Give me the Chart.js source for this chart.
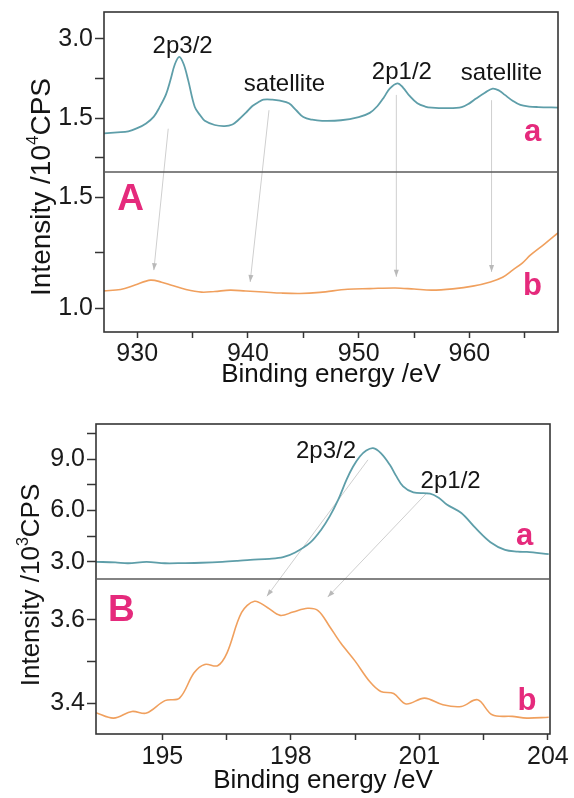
<!DOCTYPE html>
<html>
<head>
<meta charset="utf-8">
<script src="https://cdn.jsdelivr.net/npm/chart.js@4.4.1/dist/chart.umd.min.js"></script>
<style>
  body { margin: 0; background: #fff; }
  #wrap { position: relative; width: 574px; height: 798px; }
  #wrap canvas { position: absolute; left: 0; }
</style>
</head>
<body>
<div id="wrap">
  <canvas id="cuChart" width="574" height="400" style="top:0"></canvas>
  <canvas id="clChart" width="574" height="398" style="top:400px"></canvas>
</div>
<script>
// ---- Cu 2p region (x10^4 CPS) ----
const cuEnergyA = [927.0, 928.2, 929.2, 930.0, 930.8, 931.5, 932.0, 932.6, 933.0, 933.4, 933.8, 934.2, 934.6, 935.2, 935.7,
  936.1, 937.0, 937.9, 938.6, 939.1, 939.8, 940.4, 941.0, 941.4, 942.2, 942.9, 943.7, 944.4, 945.0, 945.8, 946.7, 948.4,
  950.0, 951.0, 951.7, 952.3, 952.8, 953.5, 954.0, 954.6, 955.3, 956.0, 956.6, 958.0, 959.3, 960.0, 960.6, 961.4, 962.1,
  962.7, 963.2, 963.9, 964.6, 965.4, 966.2, 968.0];
const cuCountsA = [1.21, 1.23, 1.25, 1.31, 1.40, 1.53, 1.70, 1.95, 2.22, 2.52, 2.66, 2.52, 2.22, 1.71, 1.55,
  1.45, 1.37, 1.35, 1.38, 1.46, 1.60, 1.73, 1.81, 1.85, 1.85, 1.83, 1.78, 1.64, 1.52, 1.47, 1.45, 1.46,
  1.52, 1.60, 1.73, 1.90, 2.06, 2.16, 2.08, 1.92, 1.78, 1.72, 1.70, 1.69, 1.71, 1.78, 1.87, 1.98, 2.06,
  2.02, 1.94, 1.83, 1.75, 1.72, 1.71, 1.70];
const cuEnergyB = [927.0, 928.5, 929.8, 931.2, 932.2, 933.1, 934.4, 935.8, 937.0, 938.4, 939.8, 941.4, 943.0, 944.7,
  946.5, 949.0, 951.0, 953.3, 955.0, 956.6, 958.5, 960.3, 961.9, 963.0, 963.9, 964.8, 965.5, 966.8, 968.0];
const cuCountsB = [1.079, 1.085, 1.105, 1.127, 1.118, 1.104, 1.085, 1.073, 1.076, 1.082, 1.078, 1.074, 1.069, 1.067,
  1.072, 1.086, 1.089, 1.092, 1.087, 1.082, 1.088, 1.100, 1.119, 1.140, 1.172, 1.205, 1.239, 1.290, 1.339];

const cuXTicks = [930, 935, 940, 945, 950, 955, 960, 965];
const cuXLabels = ['930', '', '940', '', '950', '', '960', ''];
const cuTopTicks = [0.75, 1.5, 2.25, 3.0];
const cuTopLabels = ['', '1.5', '', '3.0'];
const cuBotTicks = [1.0, 1.25, 1.5];
const cuBotLabels = ['1.0', '', '1.5'];

const cuPeakNames = ['2p3/2', 'satellite', '2p1/2', 'satellite'];
const cuPeakE = [934.1, 943.3, 953.9, 962.9];
const cuPeakI = [2.85, 2.13, 2.37, 2.34];
// guide arrows: start on the upper trace axis, end on the lower one
const cuArrowFromE = [932.8, 941.9, 953.4, 962.0];
const cuArrowFromI = [1.30, 1.65, 1.94, 1.84];
const cuArrowToE = [931.5, 940.2, 953.4, 962.0];
const cuArrowToI = [1.172, 1.119, 1.142, 1.164];

// ---- Cl 2p region (x10^3 CPS) ----
const clEnergyA = [193.45, 193.9, 194.2, 194.63, 195.06, 195.5, 195.91, 196.4, 196.76, 197.05, 197.5, 197.82, 198.1,
  198.45, 198.7, 198.91, 199.1, 199.3, 199.45, 199.61, 199.76, 199.92, 200.1, 200.31, 200.45, 200.62, 200.86, 201.25,
  201.45, 201.64, 201.98, 202.32, 202.66, 203.0, 203.3, 203.51, 204.02];
const clCountsA = [3.00, 2.97, 2.92, 3.00, 2.92, 2.93, 2.95, 3.00, 3.06, 3.12, 3.18, 3.28, 3.55,
  4.12, 4.85, 5.67, 6.60, 7.80, 8.55, 9.15, 9.50, 9.64, 9.35, 8.67, 8.05, 7.41, 7.06, 6.99,
  6.75, 6.35, 5.85, 4.95, 4.15, 3.70, 3.60, 3.58, 3.45];
const clEnergyB = [193.45, 193.86, 194.29, 194.63, 195.06, 195.4, 195.74, 195.99, 196.29, 196.51, 196.85, 197.15,
  197.45, 197.75, 198.05, 198.39, 198.64, 198.9, 199.16, 199.5, 199.84, 200.1, 200.4, 200.69, 201.12, 201.55, 201.98,
  202.36, 202.7, 203.17, 203.51, 204.02];
const clCountsB = [3.377, 3.364, 3.380, 3.376, 3.406, 3.412, 3.473, 3.493, 3.490, 3.521, 3.618, 3.645,
  3.630, 3.611, 3.619, 3.628, 3.622, 3.585, 3.545, 3.501, 3.452, 3.428, 3.423, 3.398, 3.412, 3.396, 3.392,
  3.408, 3.372, 3.368, 3.364, 3.366];

const clXTicks = [195, 196.5, 198, 199.5, 201, 202.5, 204];
const clXLabels = ['195', '', '198', '', '201', '', '204'];
const clTopTicks = [3.0, 4.5, 6.0, 7.5, 9.0, 10.5];
const clTopLabels = ['3.0', '', '6.0', '', '9.0', ''];
const clBotTicks = [3.4, 3.5, 3.6];
const clBotLabels = ['3.4', '', '3.6'];

const clPeakNames = ['2p3/2', '2p1/2'];
const clPeakE = [198.82, 201.73];
const clPeakI = [9.48, 7.68];
const clArrowFromE = [199.80, 201.18];
const clArrowFromI = [8.96, 7.04];
const clArrowToE = [197.44, 198.86];
const clArrowToI = [3.657, 3.655];

const FONT = 'Arial, "Liberation Sans", sans-serif';
const TEAL = '#5e9ea9';
const ORANGE = '#f0a05e';
const PINK = '#e52a7c';
const FRAME = '#353535';

function pts(xs, ys) {
  return xs.map((e, i) => ({ x: e, y: ys[i] }));
}

function noPadding(scale) {
  scale.paddingLeft = scale.paddingRight = scale.paddingTop = scale.paddingBottom = 0;
}

function yAxis(min, max, tickVals, tickLabels, width, weight) {
  return {
    type: 'linear', position: 'left', stack: 'left', stackWeight: 1, weight: weight,
    min: min, max: max,
    afterBuildTicks: s => { s.ticks = tickVals.map(v => ({ value: v })); },
    afterFit: s => { s.width = width; noPadding(s); },
    ticks: { autoSkip: false, callback: (v, i) => tickLabels[i], font: { family: FONT, size: 25 }, color: '#1a1a1a', padding: 2 },
    grid: { display: true, drawOnChartArea: false, drawTicks: true, tickLength: 9, tickColor: FRAME, tickWidth: 1.5 },
    border: { display: false }
  };
}

function xAxis(min, max, tickVals, tickLabels, height, tickPad, titlePad) {
  return {
    type: 'linear', position: 'bottom', min: min, max: max,
    afterBuildTicks: s => { s.ticks = tickVals.map(v => ({ value: v })); },
    afterFit: s => { s.height = height; noPadding(s); },
    ticks: { autoSkip: false, maxRotation: 0, callback: (v, i) => tickLabels[i], font: { family: FONT, size: 25 }, color: '#1a1a1a', padding: tickPad },
    grid: { display: true, drawOnChartArea: false, drawTicks: true, tickLength: 6, tickColor: FRAME, tickWidth: 1.5 },
    border: { display: false },
    title: { display: true, text: 'Binding energy /eV', font: { family: FONT, size: 26 }, color: '#111', padding: { top: 0, bottom: titlePad } }
  };
}

function arrow(ctx, x0, y0, x1, y1) {
  ctx.beginPath();
  ctx.moveTo(x0, y0);
  ctx.lineTo(x1, y1);
  ctx.stroke();
  const ang = Math.atan2(y1 - y0, x1 - x0);
  ctx.beginPath();
  ctx.moveTo(x1, y1);
  ctx.lineTo(x1 - 7 * Math.cos(ang) + 2.5 * Math.sin(ang), y1 - 7 * Math.sin(ang) - 2.5 * Math.cos(ang));
  ctx.lineTo(x1 - 7 * Math.cos(ang) - 2.5 * Math.sin(ang), y1 - 7 * Math.sin(ang) + 2.5 * Math.cos(ang));
  ctx.closePath();
  ctx.fill();
}

// frame, divider, guide arrows, peak names and panel letters
const decor = {
  id: 'decor',
  beforeDatasetsDraw(chart, args, o) {
    const { ctx, scales } = chart;
    ctx.save();
    ctx.strokeStyle = '#cfcfcf';
    ctx.fillStyle = '#b9b9b9';
    ctx.lineWidth = 1;
    o.arrowFromE.forEach((e, i) => {
      arrow(ctx, scales.x.getPixelForValue(e), scales.yTop.getPixelForValue(o.arrowFromI[i]),
        scales.x.getPixelForValue(o.arrowToE[i]), scales.yBot.getPixelForValue(o.arrowToI[i]));
    });
    ctx.restore();
  },
  afterDatasetsDraw(chart, args, o) {
    const { ctx, chartArea: a, scales } = chart;
    const x = scales.x, yTop = scales.yTop, yBot = scales.yBot;
    ctx.save();
    ctx.strokeStyle = FRAME;
    ctx.lineWidth = 1.6;
    ctx.strokeRect(a.left, a.top, a.right - a.left, a.bottom - a.top);
    ctx.strokeStyle = '#5a5a5a';
    ctx.beginPath();
    ctx.moveTo(a.left, yTop.bottom);
    ctx.lineTo(a.right, yTop.bottom);
    ctx.stroke();

    ctx.textAlign = 'center';
    ctx.textBaseline = 'middle';
    ctx.fillStyle = '#151515';
    ctx.font = '24px ' + FONT;
    o.peakNames.forEach((t, i) => {
      ctx.fillText(t, x.getPixelForValue(o.peakE[i]), yTop.getPixelForValue(o.peakI[i]));
    });

    ctx.fillStyle = PINK;
    ctx.font = 'bold 31px ' + FONT;
    ctx.fillText('a', x.getPixelForValue(o.aPos[0]), yTop.getPixelForValue(o.aPos[1]));
    ctx.fillText('b', x.getPixelForValue(o.bPos[0]), yBot.getPixelForValue(o.bPos[1]));
    ctx.font = 'bold 37px ' + FONT;
    ctx.fillText(o.letter, x.getPixelForValue(o.letterPos[0]), yBot.getPixelForValue(o.letterPos[1]));

    // rotated y title with superscript exponent
    ctx.translate(o.titleX, (a.top + a.bottom) / 2 + o.titleShift);
    ctx.rotate(-Math.PI / 2);
    ctx.fillStyle = '#151515';
    ctx.textAlign = 'left';
    ctx.textBaseline = 'alphabetic';
    const big = o.titleSize + 'px ' + FONT, small = Math.round(o.titleSize * 0.6) + 'px ' + FONT;
    ctx.font = big;
    const w1 = ctx.measureText('Intensity /10').width, w3 = ctx.measureText('CPS').width;
    ctx.font = small;
    const w2 = ctx.measureText(o.exponent).width;
    let px = -(w1 + w2 + w3) / 2;
    const base = o.titleSize * 0.36;
    ctx.font = big;
    ctx.fillText('Intensity /10', px, base);
    px += w1;
    ctx.font = small;
    ctx.fillText(o.exponent, px, base - o.titleSize * 0.42);
    px += w2;
    ctx.font = big;
    ctx.fillText('CPS', px, base);
    ctx.restore();
  }
};

function makeChart(id, opt) {
  return new Chart(document.getElementById(id), {
    type: 'line',
    data: {
      datasets: [
        { data: pts(opt.eA, opt.iA), yAxisID: 'yTop', borderColor: TEAL, borderWidth: 1.8 },
        { data: pts(opt.eB, opt.iB), yAxisID: 'yBot', borderColor: ORANGE, borderWidth: 1.6 }
      ]
    },
    options: {
      responsive: false,
      animation: false,
      events: [],
      layout: { padding: opt.padding },
      elements: { point: { radius: 0 }, line: { tension: 0.35 } },
      scales: {
        x: opt.x,
        yTop: opt.yTop,
        yBot: opt.yBot
      },
      plugins: { legend: { display: false }, tooltip: { enabled: false }, decor: opt.decor }
    },
    plugins: [decor]
  });
}

makeChart('cuChart', {
  eA: cuEnergyA, iA: cuCountsA, eB: cuEnergyB, iB: cuCountsB,
  padding: { top: 12, right: 16, left: 0, bottom: 0 },
  x: xAxis(927, 968, cuXTicks, cuXLabels, 68, 1, 10),
  yTop: yAxis(0.48, 3.51, cuTopTicks, cuTopLabels, 104, 2),
  yBot: yAxis(0.894, 1.613, cuBotTicks, cuBotLabels, 104, 1),
  decor: {
    peakNames: cuPeakNames, peakE: cuPeakE, peakI: cuPeakI,
    arrowFromE: cuArrowFromE, arrowFromI: cuArrowFromI, arrowToE: cuArrowToE, arrowToI: cuArrowToI,
    aPos: [965.7, 1.23], bPos: [965.7, 1.10], letter: 'A', letterPos: [929.4, 1.49],
    titleX: 40, titleShift: 15, titleSize: 28, exponent: '4'
  }
});

makeChart('clChart', {
  eA: clEnergyA, iA: clCountsA, eB: clEnergyB, iB: clCountsB,
  padding: { top: 24, right: 24, left: 0, bottom: 0 },
  x: xAxis(193.45, 204.05, clXTicks, clXLabels, 64, 2, 2),
  yTop: yAxis(2.0, 11.05, clTopTicks, clTopLabels, 96, 2),
  yBot: yAxis(3.3257, 3.6985, clBotTicks, clBotLabels, 96, 1),
  decor: {
    peakNames: clPeakNames, peakE: clPeakE, peakI: clPeakI,
    arrowFromE: clArrowFromE, arrowFromI: clArrowFromI, arrowToE: clArrowToE, arrowToI: clArrowToI,
    aPos: [203.46, 4.49], bPos: [203.51, 3.404], letter: 'B', letterPos: [194.04, 3.621],
    titleX: 30, titleShift: 6, titleSize: 26, exponent: '3'
  }
});
</script>
</body>
</html>
